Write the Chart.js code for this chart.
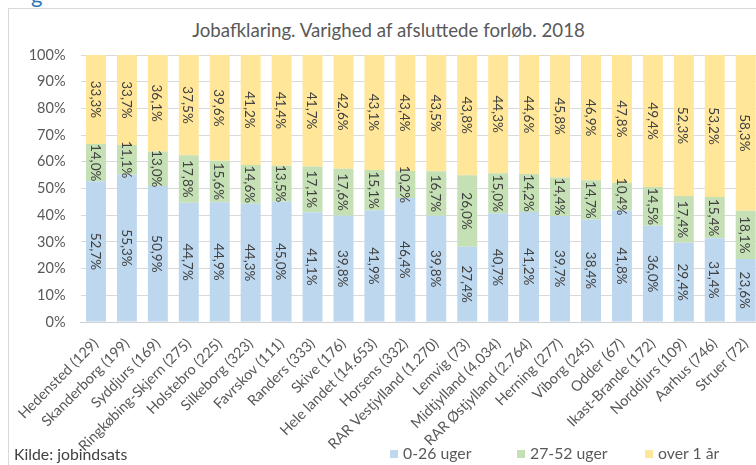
<!DOCTYPE html>
<html>
<head>
<meta charset="utf-8">
<script src="https://cdn.jsdelivr.net/npm/chart.js@4"></script>
<style>
  html, body { margin: 0; padding: 0; background: #fff; overflow: hidden; width: 756px; height: 465px; }
  #wrap { position: absolute; left: 0; top: 0; width: 763px; height: 465px; }
  #frame { position: absolute; left: 8px; top: 8px; width: 800px; height: 500px; border-left: 1px solid #d9d9d9; border-top: 1px solid #d9d9d9; }
  #title { position: absolute; left: 0; width: 777px; top: 19px; text-align: center; font-family: Lato, sans-serif; font-size: 18.7px; color: #595959; }
  #src { position: absolute; left: 14px; top: 444px; font-family: Lato, sans-serif; font-size: 15.8px; color: #404040; }
  #legend { position: absolute; top: 443px; left: 0; font-family: Lato, sans-serif; font-size: 15.8px; color: #595959; }
  .li { position: absolute; white-space: nowrap; }
  .sw { display: inline-block; width: 8px; height: 8px; margin-right: 5px; vertical-align: 1px; }
  #g { position: absolute; left: 31px; top: -19px; font-family: Lato, sans-serif; font-size: 22px; color: #2e75b6; }
</style>
</head>
<body>
<div id="g">g</div>
<div id="frame"></div>
<div id="title">Jobafklaring. Varighed af afsluttede forløb. 2018</div>
<div id="wrap"><canvas id="c" width="763" height="465"></canvas></div>
<div id="src">Kilde: jobindsats</div>
<div id="legend"></div>
<script>
const categories = [
  "Hedensted (129)", "Skanderborg (199)", "Syddjurs (169)", "Ringkøbing-Skjern (275)",
  "Holstebro (225)", "Silkeborg (323)", "Favrskov (111)", "Randers (333)", "Skive (176)",
  "Hele landet (14.653)", "Horsens (332)", "RAR Vestjylland (1.270)", "Lemvig (73)",
  "Midtjylland (4.034)", "RAR Østjylland (2.764)", "Herning (277)", "Viborg (245)",
  "Odder (67)", "Ikast-Brande (172)", "Norddjurs (109)", "Aarhus (746)", "Struer (72)"
];
const short = [52.7, 55.3, 50.9, 44.7, 44.9, 44.3, 45.0, 41.1, 39.8, 41.9, 46.4, 39.8, 27.4, 40.7, 41.2, 39.7, 38.4, 41.8, 36.0, 29.4, 31.4, 23.6];
const mid   = [14.0, 11.1, 13.0, 17.8, 15.6, 14.6, 13.5, 17.1, 17.6, 15.1, 10.2, 16.7, 26.0, 15.0, 14.2, 14.4, 14.7, 10.4, 14.5, 17.4, 15.4, 18.1];
const long  = [33.3, 33.7, 36.1, 37.5, 39.6, 41.2, 41.4, 41.7, 42.6, 43.1, 43.4, 43.5, 43.8, 44.3, 44.6, 45.8, 46.9, 47.8, 49.4, 52.3, 53.2, 58.3];
const seriesNames = ["0-26 uger", "27-52 uger", "over 1 år"];
const seriesColors = ["#bdd7ee", "#c5e0b4", "#ffe699"];
const yTicks = ["0%", "10%", "20%", "30%", "40%", "50%", "60%", "70%", "80%", "90%", "100%"];

const raw = [short, mid, long];
const totals = categories.map((_, i) => short[i] + mid[i] + long[i]);
const norm = raw.map(s => s.map((v, i) => v / totals[i] * 100));

const labelPlugin = {
  id: 'segLabels',
  afterDatasetsDraw(chart) {
    const ctx = chart.ctx;
    ctx.save();
    ctx.font = '13.5px Lato, sans-serif';
    ctx.fillStyle = '#404040';
    ctx.textAlign = 'center';
    ctx.textBaseline = 'middle';
    chart.data.datasets.forEach((ds, di) => {
      const meta = chart.getDatasetMeta(di);
      meta.data.forEach((bar, i) => {
        const txt = raw[di][i].toFixed(1).replace('.', ',') + '%';
        const y = (bar.y + bar.base) / 2;
        ctx.save();
        ctx.translate(bar.x, y);
        ctx.rotate(Math.PI / 2);
        ctx.fillText(txt, 0, 1);
        ctx.restore();
      });
    });
    ctx.restore();
  }
};

new Chart(document.getElementById('c'), {
  type: 'bar',
  data: {
    labels: categories,
    datasets: seriesNames.map((n, k) => ({
      label: n,
      data: norm[k],
      backgroundColor: seriesColors[k],
      borderWidth: 0,
      categoryPercentage: 1,
      barPercentage: 0.645
    }))
  },
  options: {
    responsive: false,
    animation: false,
    layout: { padding: { top: 55, left: 0, right: 0, bottom: 0 } },
    plugins: { legend: { display: false }, tooltip: { enabled: false }, title: { display: false } },
    scales: {
      x: {
        stacked: true,
        grid: { display: false },
        border: { display: true, color: '#d0d0d0' },
        ticks: {
          color: '#595959', font: { family: 'Lato, sans-serif', size: 14.5 },
          minRotation: 45, maxRotation: 45, autoSkip: false, padding: 5
        },
        afterFit(scale) { scale.height = 143; }
      },
      y: {
        stacked: true, min: 0, max: 100,
        grid: { color: '#d9d9d9', drawTicks: false },
        border: { display: false },
        ticks: {
          stepSize: 10, padding: 15, color: '#595959',
          font: { family: 'Lato, sans-serif', size: 14.5 },
          callback: (v) => yTicks[Math.round(v / 10)]
        },
        afterFit(scale) { scale.width = 80.5; }
      }
    }
  },
  plugins: [labelPlugin]
});

const legendPos = [390, 517, 645];
const lg = document.getElementById('legend');
seriesNames.forEach((n, k) => {
  const d = document.createElement('div');
  d.className = 'li';
  d.style.left = legendPos[k] + 'px';
  d.innerHTML = '<span class="sw" style="background:' + seriesColors[k] + '"></span>' + n;
  lg.appendChild(d);
});
</script>
</body>
</html>
